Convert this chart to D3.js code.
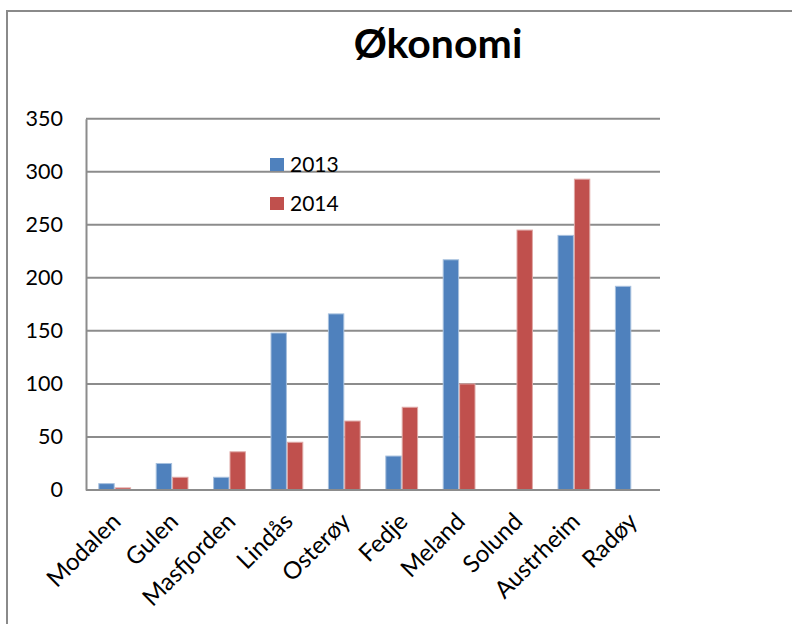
<!DOCTYPE html>
<html>
<head>
<meta charset="utf-8">
<script src="https://cdn.jsdelivr.net/npm/d3@7"></script>
<style>
  html, body { margin: 0; padding: 0; background: #fff; }
  svg { display: block; font-family: Lato, "Noto Sans", sans-serif; }
</style>
</head>
<body>
<svg id="chart" width="792" height="624"></svg>
<script>
// Municipalities and yearly values
const categories = ["Modalen", "Gulen", "Masfjorden", "Lindås", "Osterøy", "Fedje", "Meland", "Solund", "Austrheim", "Radøy"];
const values2013 = [6, 25, 12, 148, 166, 32, 217, 0, 240, 192];
const values2014 = [2, 12, 36, 45, 65, 78, 100, 245, 293, 0];
const seriesNames = ["2013", "2014"];
const yTicks = [0, 50, 100, 150, 200, 250, 300, 350];
const titleText = "Økonomi";

const colors = { "2013": "#4F81BD", "2014": "#C0504D" };
const edge = { "2013": "#A7C0DE", "2014": "#DFA8A6" };

const svg = d3.select("#chart");

// chart frame
svg.append("path")
  .attr("d", "M7,624 V11 H792")
  .attr("fill", "none")
  .attr("stroke", "#8a8a8a")
  .attr("stroke-width", 2);

const plot = { left: 86, right: 660, top: 118.7, bottom: 490 };

const x0 = d3.scaleBand()
  .domain(categories)
  .range([plot.left, plot.right])
  .paddingInner(1.5 / 3.5)
  .paddingOuter(0.75 / 3.5);

const x1 = d3.scaleBand()
  .domain(seriesNames)
  .range([0, x0.bandwidth()]);

const y = d3.scaleLinear()
  .domain([0, 350])
  .range([plot.bottom, plot.top]);

// gridlines
svg.append("g")
  .selectAll("line")
  .data(yTicks)
  .join("line")
  .attr("x1", plot.left)
  .attr("x2", plot.right)
  .attr("y1", d => y(d))
  .attr("y2", d => y(d))
  .attr("stroke", "#8c8c8c")
  .attr("stroke-width", 2);

// y axis
const yAxis = d3.axisLeft(y).tickValues(yTicks).tickSize(0).tickPadding(23);
const gy = svg.append("g")
  .attr("transform", `translate(${plot.left},0)`)
  .call(yAxis);
gy.select(".domain").attr("stroke", "#8c8c8c").attr("stroke-width", 2);
gy.selectAll("text")
  .attr("font-size", 21.5)
  .attr("fill", "#000")
  .attr("font-family", "Lato, sans-serif");

// bars
const rows = categories.map((c, i) => ({ cat: c, "2013": values2013[i], "2014": values2014[i] }));

const groups = svg.append("g")
  .selectAll("g")
  .data(rows)
  .join("g")
  .attr("transform", d => `translate(${x0(d.cat)},0)`);

groups.selectAll("rect")
  .data(d => seriesNames.map(s => ({ s, v: d[s] })).filter(e => e.v > 0))
  .join("rect")
  .attr("x", d => x1(d.s) + 0.5)
  .attr("width", x1.bandwidth() - 1)
  .attr("y", d => y(d.v))
  .attr("height", d => y(0) - y(d.v))
  .attr("fill", d => colors[d.s])
  .attr("stroke", d => edge[d.s])
  .attr("stroke-width", 1);

// x axis line
svg.append("line")
  .attr("x1", plot.left)
  .attr("x2", plot.right)
  .attr("y1", y(0))
  .attr("y2", y(0))
  .attr("stroke", "#8c8c8c")
  .attr("stroke-width", 2);

// category labels
svg.append("g")
  .selectAll("text")
  .data(categories)
  .join("text")
  .attr("transform", d => `translate(${x0(d) + x0.bandwidth() / 2 + 7.5},${plot.bottom + 33}) rotate(-45)`)
  .attr("text-anchor", "end")
  .attr("font-size", 24)
  .attr("fill", "#000")
  .text(d => d);

// title
svg.append("text")
  .attr("x", 438)
  .attr("y", 58)
  .attr("text-anchor", "middle")
  .attr("font-size", 41)
  .attr("font-weight", "bold")
  .attr("fill", "#000")
  .text(titleText);

// legend
const legend = svg.append("g")
  .selectAll("g")
  .data(seriesNames)
  .join("g")
  .attr("transform", (d, i) => `translate(270,${158 + i * 39})`);
legend.append("rect")
  .attr("width", 14)
  .attr("height", 13)
  .attr("fill", d => colors[d]);
legend.append("text")
  .attr("x", 20)
  .attr("y", 13.5)
  .attr("font-size", 21)
  .attr("fill", "#000")
  .text(d => d);
</script>
</body>
</html>
